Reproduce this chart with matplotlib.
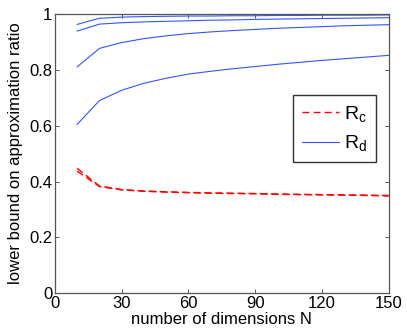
import numpy as np
import matplotlib
matplotlib.use('Agg')
import matplotlib.pyplot as plt

plt.rcParams['font.family'] = ['Liberation Sans', 'DejaVu Sans']

# dimensions
N = [10, 20, 30, 40, 50, 60, 70, 80, 90, 100, 110, 120, 130, 140, 150]

# R_d curves (blue)
rd1 = [0.963, 0.985, 0.989, 0.991, 0.992, 0.993, 0.993, 0.994, 0.994, 0.995, 0.995, 0.996, 0.996, 0.996, 0.997]
rd2 = [0.939, 0.964, 0.969, 0.972, 0.974, 0.976, 0.978, 0.979, 0.981, 0.982, 0.983, 0.984, 0.985, 0.986, 0.987]
rd3 = [0.811, 0.877, 0.898, 0.912, 0.922, 0.930, 0.936, 0.941, 0.945, 0.949, 0.952, 0.955, 0.958, 0.960, 0.962]
rd4 = [0.605, 0.690, 0.727, 0.752, 0.770, 0.785, 0.795, 0.804, 0.812, 0.820, 0.827, 0.834, 0.840, 0.846, 0.852]

# R_c curves (red dashed)
rc1 = [0.447, 0.384, 0.371, 0.366, 0.363, 0.361, 0.359, 0.358, 0.357, 0.355, 0.354, 0.353, 0.352, 0.351, 0.350]
rc2 = [0.437, 0.382, 0.370, 0.365, 0.362, 0.360, 0.358, 0.357, 0.356, 0.354, 0.353, 0.352, 0.351, 0.350, 0.348]

xticks = [0, 30, 60, 90, 120, 150]
yticks = [0, 0.2, 0.4, 0.6, 0.8, 1]
yticklabels = ['0', '0.2', '0.4', '0.6', '0.8', '1']

fig = plt.figure(figsize=(4.07, 3.35), dpi=100)
ax = fig.add_axes([0.135, 0.125, 0.82, 0.833])

blue = '#3355ff'
for rd in [rd1, rd2, rd3, rd4]:
    lb, = ax.plot(N, rd, color=blue, lw=0.8)
for rc in [rc1, rc2]:
    lr, = ax.plot(N, rc, color='red', lw=1.0, ls=(0, (5, 3)))

ax.set_xlim(0, 150)
ax.set_ylim(0, 1)
ax.set_xticks(xticks)
ax.set_yticks(yticks)
ax.set_yticklabels(yticklabels)
ax.tick_params(direction='in', top=True, right=True, length=3, width=0.6,
               labelsize=12, pad=2, colors='#404040', labelcolor='black')
for s in ax.spines.values():
    s.set_color('#555555')
    s.set_linewidth(0.9)

ax.set_xlabel('number of dimensions N', fontsize=12, labelpad=1)
ax.set_ylabel('lower bound on approximation ratio', fontsize=12, labelpad=4)

leg = ax.legend([lr, lb], ['$\\mathregular{R_c}$', '$\\mathregular{R_d}$'],
                loc='upper left', bbox_to_anchor=(0.713, 0.71), borderaxespad=0,
                fontsize=14, fancybox=False, framealpha=1, edgecolor='#333333',
                handlelength=1.9, handletextpad=0.3, borderpad=0.45,
                labelspacing=0.5)
leg.get_frame().set_linewidth(1.0)

fig.savefig('out.png', dpi=100)
